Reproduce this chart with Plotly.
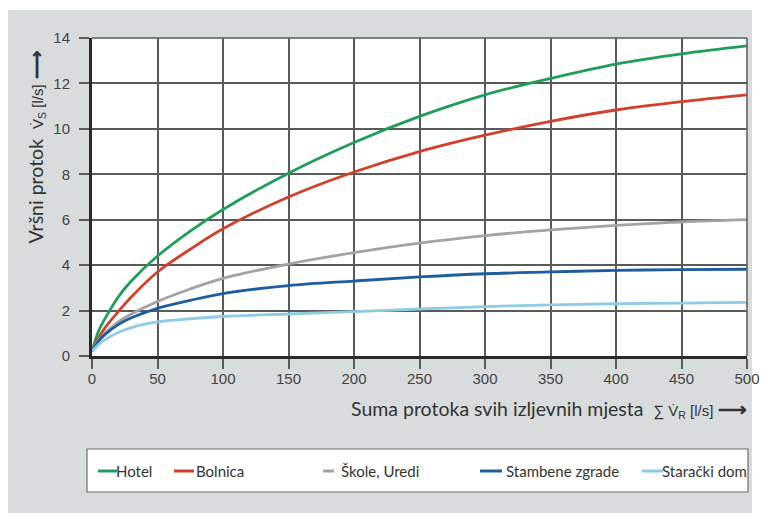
import plotly.graph_objects as go

# ---- data ----
x_vals = [0, 5, 10, 20, 30, 50, 75, 100, 150, 200, 250, 300, 350, 400, 450, 500]
hotel = [0.2, 1.1, 1.65, 2.6, 3.3, 4.4, 5.5, 6.45, 8.05, 9.4, 10.55, 11.5, 12.22, 12.85, 13.3, 13.65]
bolnica = [0.2, 0.8, 1.25, 1.95, 2.6, 3.7, 4.7, 5.6, 7.0, 8.1, 9.0, 9.72, 10.33, 10.83, 11.2, 11.5]
skole = [0.2, 0.7, 1.0, 1.5, 1.85, 2.4, 2.95, 3.42, 4.05, 4.55, 4.97, 5.3, 5.55, 5.75, 5.9, 6.0]
stambene = [0.2, 0.65, 0.95, 1.38, 1.68, 2.1, 2.45, 2.75, 3.1, 3.3, 3.48, 3.62, 3.7, 3.77, 3.8, 3.82]
staracki = [0.2, 0.5, 0.72, 1.03, 1.25, 1.5, 1.64, 1.74, 1.85, 1.95, 2.07, 2.17, 2.25, 2.3, 2.33, 2.36]

series_names = ["Hotel", "Bolnica", "Škole, Uredi", "Stambene zgrade", "Starački dom"]
series_values = [hotel, bolnica, skole, stambene, staracki]
series_colors = ["#1f9e5a", "#d2402c", "#a3a3a3", "#1d5e9e", "#8fcbe6"]

x_ticks = [0, 50, 100, 150, 200, 250, 300, 350, 400, 450, 500]
y_ticks = [0, 2, 4, 6, 8, 10, 12, 14]

W, H = 761, 515
ML, MR, MT, MB = 92, 14, 38, 159
PW, PH = W - ML - MR, H - MT - MB


def px(X):
    return (X - ML) / PW


def py(Y):
    return (H - MB - Y) / PH


fig = go.Figure()
for name, vals, col in zip(series_names, series_values, series_colors):
    fig.add_trace(go.Scatter(x=x_vals, y=vals, mode="lines", name=name,
                             line=dict(color=col, width=2.8, shape="spline", smoothing=1.0),
                             showlegend=False))

shapes = []
# white page border around the gray panel
for x0, x1, y0, y1 in [(-0.3, 1.3, py(10), 1.3), (-0.3, px(8), -0.7, 1.3),
                       (px(752), 1.3, -0.7, 1.3), (-0.3, 1.3, -0.7, py(513))]:
    shapes.append(dict(type="rect", xref="paper", yref="paper", x0=x0, x1=x1, y0=y0, y1=y1,
                       fillcolor="white", line=dict(width=0), layer="below"))
# top and right frame lines
shapes.append(dict(type="line", xref="paper", yref="paper", x0=0, x1=1, y0=1, y1=1,
                   line=dict(color="#5a5a5a", width=1.5)))
shapes.append(dict(type="line", xref="paper", yref="paper", x0=1, x1=1, y0=0, y1=1,
                   line=dict(color="#5a5a5a", width=1.5)))
# legend box
shapes.append(dict(type="rect", xref="paper", yref="paper", x0=px(87), x1=px(748), y0=py(492), y1=py(449),
                   fillcolor="white", line=dict(color="#6e6e6e", width=1.2)))

legend_line_x = [(98, 117), (174, 194), (323, 334), (480, 502), (642, 663)]
legend_text_x = [114, 194, 339, 504, 660]
annotations = []
for (a, b), tx, name, col in zip(legend_line_x, legend_text_x, series_names, series_colors):
    shapes.append(dict(type="line", xref="paper", yref="paper", x0=px(a), x1=px(b), y0=py(471), y1=py(471),
                       line=dict(color=col, width=3)))
    annotations.append(dict(xref="paper", yref="paper", x=px(tx), y=py(471), xanchor="left", yanchor="middle",
                            text=name, showarrow=False,
                            font=dict(family="Lato", size=15, color="#333333")))

annotations.append(dict(
    xref="paper", yref="paper", x=px(749), y=py(409), xanchor="right", yanchor="middle", showarrow=False,
    text="Suma protoka svih izljevnih mjesta  <span style='font-size:15px;font-family:Liberation Sans'>∑ V̇<sub>R</sub> [l/s]</span> <b>⟶</b>",
    font=dict(family="Lato", size=19.5, color="#333333")))
annotations.append(dict(
    xref="paper", yref="paper", x=px(35), y=py(246), xanchor="center", yanchor="bottom", showarrow=False,
    textangle=-90,
    text="Vršni protok  <span style='font-size:15px;font-family:Liberation Sans'>V̇<sub>S</sub> [l/s]</span> <b>⟶</b>",
    font=dict(family="Lato", size=19.5, color="#333333")))

fig.update_layout(
    width=W, height=H,
    margin=dict(l=ML, r=MR, t=MT, b=MB, autoexpand=False),
    paper_bgcolor="#d8dcdd", plot_bgcolor="white",
    shapes=shapes, annotations=annotations,
    xaxis=dict(range=[0, 500], tickvals=x_ticks, ticktext=[str(v) for v in x_ticks],
               automargin=False,
               showgrid=True, gridcolor="#5a5a5a", gridwidth=1.5, zeroline=False,
               showline=True, linecolor="#2a2a2a", linewidth=3,
               ticks="outside", ticklen=10, tickwidth=1.5, tickcolor="#5a5a5a",
               ticklabelstandoff=-3,
               tickfont=dict(family="Liberation Sans", size=15, color="#444444")),
    yaxis=dict(range=[0, 14], tickvals=y_ticks, ticktext=[str(v) for v in y_ticks],
               automargin=False,
               showgrid=True, gridcolor="#5a5a5a", gridwidth=1.5, zeroline=False,
               showline=True, linecolor="#2a2a2a", linewidth=3,
               ticks="outside", ticklen=10, tickwidth=1.5, tickcolor="#5a5a5a",
               ticklabelstandoff=6,
               tickfont=dict(family="Liberation Sans", size=15, color="#444444")),
)

fig.write_html("out.html", config={"displayModeBar": False},
               post_script="document.body.style.margin='0';document.body.style.overflow='hidden';")
